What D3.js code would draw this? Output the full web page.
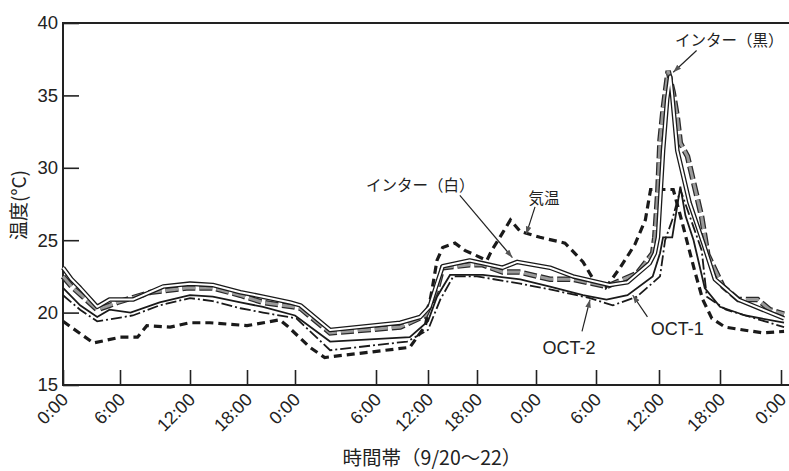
<!DOCTYPE html>
<html>
<head>
<meta charset="utf-8">
<script src="https://cdnjs.cloudflare.com/ajax/libs/d3/7.8.5/d3.min.js"></script>
<style>
  body { margin: 0; background: #fff; }
  svg { display: block; }
  .lat { font-family: 'Liberation Sans', Arial, sans-serif; fill: #222; }
  .jp { font-family: 'Noto Sans CJK JP', 'Noto Sans', sans-serif; fill: #222; }
</style>
</head>
<body>
<div id="chart"></div>
<script>
// axis ticks (hours from 9/20 0:00)
const tickHours = [0, 6, 12, 18, 24, 30, 36, 42, 48, 54, 60, 66, 72];
const tickLabels = ["0:00", "6:00", "12:00", "18:00", "0:00", "6:00", "12:00", "18:00", "0:00", "6:00", "12:00", "18:00", "0:00"];
const yTicks = [15, 20, 25, 30, 35, 40];

// series: [hour, temperature]
const interWhite = [[0,23.1],[0.9,22.3],[1.8,21.7],[3.6,20.4],[4.9,20.9],[6.0,20.9],[7.1,20.9],[9.7,21.8],[12.0,22.0],[14.4,21.9],[17.3,21.4],[20.0,21.1],[23.4,20.7],[24.4,20.5],[26.6,18.8],[32.8,19.3],[35.1,19.7],[36.2,20.4],[37.1,22.0],[37.8,23.2],[41.1,23.6],[42.6,23.4],[44.6,23.1],[46.1,23.5],[49.4,23.1],[51.7,22.5],[55.3,21.9],[57.0,22.1],[59.1,23.4],[59.6,24.1],[59.9,25.2],[60.4,31.2],[60.8,34.7],[61.1,36.3],[61.3,35.0],[61.8,31.2],[63.0,27.6],[64.4,24.7],[65.5,22.3],[67.8,20.9],[72.3,19.6]];
const interBlack = [[0,22.5],[0.9,21.8],[2.1,21.1],[3.6,20.2],[4.9,20.5],[5.7,20.7],[8.6,21.4],[11.7,21.7],[14.4,21.7],[17.3,21.2],[20.0,20.7],[23.8,20.4],[24.4,20.3],[26.6,18.6],[32.8,19.0],[35.7,19.8],[37.1,21.6],[37.8,23.1],[41.1,23.3],[42.6,23.3],[44.6,22.8],[46.3,22.8],[49.4,22.3],[51.7,22.3],[55.0,21.8],[57.9,22.7],[59.4,24.1],[59.6,25.2],[59.9,28.5],[60.1,31.9],[60.4,34.0],[60.9,36.7],[61.4,35.2],[61.8,33.5],[62.1,31.7],[62.8,30.8],[63.4,29.0],[64.2,26.6],[64.8,24.0],[66.3,21.8],[67.8,20.9],[69.7,20.9],[70.9,20.2],[72.3,19.9]];
const oct1 = [[0,21.7],[1.8,20.5],[3.6,19.7],[4.9,20.2],[6.9,20.0],[9.4,20.7],[12.0,21.2],[14.4,21.1],[17.3,20.7],[20.0,20.4],[24.0,19.8],[26.6,18.0],[33.9,18.3],[36.0,19.4],[37.1,21.1],[38.7,22.6],[42.6,22.6],[46.4,22.3],[49.4,21.8],[52.7,21.2],[55.0,20.9],[57.0,21.2],[59.4,22.5],[60.1,24.1],[60.4,25.2],[61.3,25.2],[62.1,28.7],[62.6,26.7],[63.4,25.0],[64.5,21.7],[66.0,20.4],[68.5,19.8],[72.3,19.3]];
const oct2 = [[0,21.2],[1.8,20.2],[3.6,19.4],[7.1,19.8],[9.4,20.5],[12.0,21.0],[14.4,20.8],[17.3,20.3],[20.0,20.0],[24.1,19.6],[26.6,17.4],[33.6,18.0],[36.0,18.8],[37.5,20.9],[39.1,22.5],[42.0,22.5],[46.4,22.0],[49.4,21.6],[53.4,21.0],[55.6,20.5],[57.9,21.1],[60.1,22.5],[60.6,25.0],[61.3,26.4],[62.1,28.5],[62.8,27.1],[64.2,24.3],[64.7,21.1],[66.6,20.2],[72.3,19.0]];
const airTemp = [[0,19.4],[3.2,17.9],[6.0,18.3],[7.5,18.3],[8.3,19.1],[10.3,19.0],[12.0,19.3],[14.1,19.3],[18.0,19.1],[22.1,19.5],[23.0,19.1],[25.1,17.6],[26.2,16.9],[33.9,17.6],[35.7,19.1],[36.5,21.6],[37.1,23.6],[37.8,24.5],[39.3,24.8],[40.5,24.3],[43.0,23.6],[43.5,24.3],[44.6,25.5],[45.4,26.4],[46.4,25.6],[48.4,25.2],[50.9,24.8],[52.7,23.5],[53.9,22.1],[54.9,21.7],[56.3,23.1],[57.7,24.7],[58.7,26.4],[59.2,28.5],[61.4,28.5],[62.1,26.7],[63.5,22.9],[64.3,20.9],[65.2,19.6],[66.5,19.0],[68.3,18.8],[70.2,18.6],[72.3,18.7]];

// callouts: label position and leader line, in data units
const notes = [
  {text: "インター（白）", cls: "jp", size: 15.5, at: [35.1, 28.8], from: [39.9, 28.1], to: [45.6, 23.8]},
  {text: "気温", cls: "jp", size: 15.5, at: [48.8, 27.9], from: [47.9, 27.3], to: [47.0, 25.4]},
  {text: "インター（黒）", cls: "jp", size: 15.5, at: [66.9, 38.8], from: [63.7, 38.1], to: [61.4, 36.6]},
  {text: "OCT-2", cls: "lat", size: 18, at: [51.3, 17.6], from: [52.6, 18.7], to: [53.4, 20.9]},
  {text: "OCT-1", cls: "lat", size: 18, at: [61.8, 18.9], from: [58.9, 19.7], to: [57.5, 21.2]}
];

let margin = {top: 23, right: 0, bottom: 86, left: 63},
    width = 789 - margin.left - margin.right,
    height = 471 - margin.top - margin.bottom;

// the hand-drawn axis has uneven spacing between the 6-hour ticks
let tickOffsets = [0, 57, 127, 184, 232, 313, 365, 414, 473, 533, 596, 657, 718];

let x = d3.scaleLinear().domain(tickHours).range(tickOffsets);
let y = d3.scaleLinear().domain([15, 40]).range([height, 0]);

let svg = d3.select("#chart").append("svg")
    .attr("width", width + margin.left + margin.right)
    .attr("height", height + margin.top + margin.bottom)
    .append("g")
    .attr("transform", "translate(" + margin.left + "," + margin.top + ")");

svg.append("defs").append("marker")
    .attr("id", "arrow")
    .attr("viewBox", "0 0 10 10")
    .attr("refX", 10).attr("refY", 5)
    .attr("markerWidth", 8).attr("markerHeight", 8)
    .attr("markerUnits", "userSpaceOnUse")
    .attr("orient", "auto")
    .append("path")
    .attr("d", "M0,1.5L10,5L0,8.5Z")
    .attr("fill", "#555");

// frame
svg.append("path")
    .attr("d", "M" + width + ",0H0V" + height + "H" + width)
    .attr("fill", "none")
    .attr("stroke", "#222")
    .attr("stroke-width", 2);

// y axis, ticks pointing inward
let yAxis = svg.append("g")
    .call(d3.axisLeft(y).tickValues(yTicks).tickSize(-16).tickSizeOuter(0));
yAxis.select(".domain").remove();
yAxis.selectAll(".tick line").attr("stroke", "#222").attr("stroke-width", 1.6);
yAxis.selectAll(".tick text")
    .attr("class", "lat")
    .style("font-size", "18.5px")
    .attr("x", -5);

// x axis, ticks pointing inward, rotated labels
let xAxis = svg.append("g")
    .attr("transform", "translate(0," + height + ")")
    .call(d3.axisBottom(x).tickValues(tickHours).tickSize(-15).tickSizeOuter(0)
        .tickFormat((d, i) => tickLabels[i]));
xAxis.select(".domain").remove();
xAxis.selectAll(".tick line").attr("stroke", "#222").attr("stroke-width", 1.6);
xAxis.selectAll(".tick text")
    .attr("class", "lat")
    .style("font-size", "18px")
    .attr("text-anchor", "end")
    .attr("x", 0).attr("y", 0)
    .attr("dy", "0.45em")
    .attr("transform", "translate(0,10) rotate(-45)");

// axis titles
svg.append("text")
    .attr("class", "jp")
    .attr("x", 369).attr("y", height + 80)
    .attr("text-anchor", "middle")
    .style("font-size", "19.5px")
    .text("時間帯（9/20〜22）");

svg.append("text")
    .attr("class", "jp")
    .attr("transform", "translate(" + (-44) + "," + 182 + ") rotate(-90)")
    .attr("text-anchor", "middle")
    .attr("dy", "0.35em")
    .style("font-size", "19px")
    .text("温度(°C)");

let line = d3.line()
    .x(d => x(d[0]))
    .y(d => y(d[1]));

// 気温 : heavy short dashes
svg.append("path").datum(airTemp)
    .attr("d", line).attr("fill", "none")
    .attr("stroke", "#1a1a1a").attr("stroke-width", 3.2)
    .attr("stroke-dasharray", "8,5");

// OCT-2 : dash-dot
svg.append("path").datum(oct2)
    .attr("d", line).attr("fill", "none")
    .attr("stroke", "#1a1a1a").attr("stroke-width", 1.8)
    .attr("stroke-dasharray", "11,3,2,3");

// OCT-1 : solid
svg.append("path").datum(oct1)
    .attr("d", line).attr("fill", "none")
    .attr("stroke", "#1a1a1a").attr("stroke-width", 1.8);

// インター(黒) : grey long dashes with dark edge
svg.append("path").datum(interBlack)
    .attr("d", line).attr("fill", "none")
    .attr("stroke", "#2a2a2a").attr("stroke-width", 5.5)
    .attr("stroke-dasharray", "13,4");
svg.append("path").datum(interBlack)
    .attr("d", line).attr("fill", "none")
    .attr("stroke", "#9a9a9a").attr("stroke-width", 3)
    .attr("stroke-dasharray", "13,4");

// インター(白) : double line
svg.append("path").datum(interWhite)
    .attr("d", line).attr("fill", "none")
    .attr("stroke", "#1a1a1a").attr("stroke-width", 4.6)
    .attr("stroke-linejoin", "round");
svg.append("path").datum(interWhite)
    .attr("d", line).attr("fill", "none")
    .attr("stroke", "#fff").attr("stroke-width", 2)
    .attr("stroke-linejoin", "round");

// callouts
svg.append("g").selectAll("line")
    .data(notes)
    .enter().append("line")
    .attr("x1", d => x(d.from[0])).attr("y1", d => y(d.from[1]))
    .attr("x2", d => x(d.to[0])).attr("y2", d => y(d.to[1]))
    .attr("stroke", "#222").attr("stroke-width", 1.2)
    .attr("marker-end", "url(#arrow)");

svg.append("g").selectAll("text")
    .data(notes)
    .enter().append("text")
    .attr("class", d => d.cls)
    .attr("x", d => x(d.at[0])).attr("y", d => y(d.at[1]))
    .attr("text-anchor", "middle")
    .attr("dy", "0.35em")
    .style("font-size", d => d.size + "px")
    .text(d => d.text);
</script>
</body>
</html>
